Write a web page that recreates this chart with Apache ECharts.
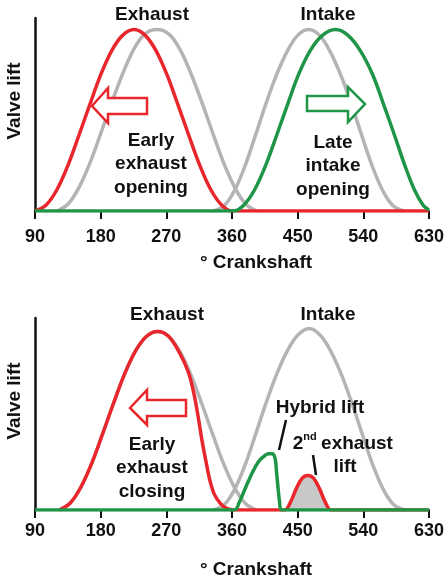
<!DOCTYPE html>
<html>
<head>
<meta charset="utf-8">
<script src="https://cdn.jsdelivr.net/npm/echarts@6/dist/echarts.min.js"></script>
<style>
  html, body { margin: 0; padding: 0; background: #fff; }
  #main { width: 447px; height: 581px; }
</style>
</head>
<body>
<div id="main"></div>
<script>
// tick labels of both crank axes
var crankTicks = [90, 180, 270, 360, 450, 540, 630];

// top panel: [crank angle, lift]
var topExhaustStd = [[120,0],[135,0.035],[150,0.12],[165,0.245],[180,0.40],[195,0.56],[210,0.71],[225,0.835],[240,0.915],[257,0.94],[274,0.915],[289,0.835],[304,0.71],[319,0.56],[334,0.40],[349,0.245],[364,0.12],[379,0.035],[394,0]];
var topIntakeStd = [[335,0],[350,0.03],[364,0.11],[378,0.235],[392,0.39],[406,0.55],[421,0.705],[436,0.83],[450,0.91],[465,0.94],[480,0.91],[494,0.83],[509,0.705],[524,0.55],[538,0.39],[552,0.235],[566,0.11],[580,0.03],[595,0]];
var topExhaustEarly = [[90,0],[105,0.03],[120,0.11],[135,0.235],[150,0.39],[165,0.55],[180,0.705],[195,0.83],[210,0.91],[226,0.94],[241,0.91],[256,0.83],[271,0.705],[286,0.55],[301,0.39],[316,0.235],[331,0.11],[346,0.03],[360,0],[630,0]];
var topIntakeLate = [[90,0],[362,0],[376,0.03],[391,0.11],[406,0.235],[421,0.39],[436,0.55],[451,0.705],[467,0.83],[484,0.91],[502,0.94],[519,0.91],[536,0.83],[553,0.705],[568,0.55],[583,0.39],[597,0.235],[610,0.11],[622,0.03],[630,0.005]];

// bottom panel
var botExhaustStd = [[123,0],[138,0.035],[153,0.12],[168,0.245],[183,0.40],[198,0.56],[213,0.71],[228,0.83],[243,0.905],[258,0.93],[273,0.905],[288,0.83],[303,0.71],[318,0.56],[333,0.40],[348,0.245],[363,0.12],[378,0.035],[393,0]];
var botIntakeStd = [[335,0],[350,0.03],[364,0.11],[378,0.235],[392,0.39],[406,0.55],[421,0.705],[436,0.83],[450,0.91],[466,0.945],[481,0.91],[495,0.83],[510,0.705],[525,0.55],[539,0.39],[553,0.235],[567,0.11],[581,0.03],[596,0]];
var botExhaustEarly = [[123,0],[138,0.035],[153,0.12],[168,0.245],[183,0.40],[198,0.56],[213,0.71],[228,0.83],[243,0.905],[258,0.93],[273,0.905],[288,0.82],[300,0.72],[307,0.62],[313,0.5],[319,0.36],[325,0.24],[330,0.15],[336,0.08],[344,0.035],[352,0.01],[362,0],[432,0],[440,0.04],[448,0.11],[456,0.165],[464,0.18],[472,0.165],[480,0.11],[488,0.04],[496,0],[630,0]];
var botSecondLift = [[432,0],[440,0.04],[448,0.11],[456,0.165],[464,0.18],[472,0.165],[480,0.11],[488,0.04],[496,0]];
var botHybrid = [[90,0],[363,0],[370,0.04],[379,0.12],[386,0.18],[392,0.225],[398,0.26],[404,0.28],[410,0.293],[415,0.293],[419,0.27],[421,0.2],[423,0.12],[425,0.05],[428,0],[630,0]];

var RED = '#e8262b', GREEN = '#1f9647', GREY = '#b4b4b4', INK = '#111';
var FONT = '"Liberation Sans", Arial, sans-serif';

var myChart = echarts.init(document.getElementById('main'));

function xAx(idx, margin) {
    return {
        gridIndex: idx, type: 'value', min: 90, max: 630, interval: 90,
        axisLine: { lineStyle: { color: INK, width: 2 } },
        axisTick: { length: 8, lineStyle: { color: INK, width: 2 } },
        axisLabel: {
            color: INK, fontSize: 18, fontWeight: 'bold', fontFamily: FONT, margin: margin,
            formatter: function (v) { return crankTicks.indexOf(v) >= 0 ? String(v) : ''; }
        },
        splitLine: { show: false }
    };
}
function yAx(idx) {
    return {
        gridIndex: idx, type: 'value', min: 0, max: 1,
        axisLine: { show: true, lineStyle: { color: INK, width: 2.5 } },
        axisTick: { show: false }, axisLabel: { show: false }, splitLine: { show: false }
    };
}
function curve(name, idx, data, color, z, extra) {
    var s = {
        name: name, type: 'line', xAxisIndex: idx, yAxisIndex: idx, data: data, z: z,
        smooth: 0.35, showSymbol: false, symbol: 'none', silent: true,
        lineStyle: { color: color, width: 3.5 }
    };
    return Object.assign(s, extra || {});
}
function label(text, x, y, extra, rot) {
    return {
        type: 'text', x: x, y: y, rotation: rot || 0, silent: true, z: 20,
        style: Object.assign({ text: text, fill: INK, font: 'bold 19px ' + FONT,
            align: 'center', verticalAlign: 'middle', lineHeight: 23.5 }, extra || {})
    };
}
function arrow(points, color) {
    return { type: 'polygon', silent: true, z: 3, shape: { points: points },
        style: { fill: '#fff', stroke: color, lineWidth: 2.5 } };
}

myChart.setOption({
    backgroundColor: '#ffffff',
    animation: false,
    grid: [
        { left: 35, right: 4, top: 18, height: 193 },
        { left: 35, right: 4, top: 318, height: 192 }
    ],
    xAxis: [xAx(0, 17), xAx(1, 12)],
    yAxis: [yAx(0), yAx(1)],
    series: [
        curve('Exhaust', 0, topExhaustStd, GREY, 1),
        curve('Intake', 0, topIntakeStd, GREY, 1),
        curve('Early exhaust opening', 0, topExhaustEarly, RED, 5),
        curve('Late intake opening', 0, topIntakeLate, GREEN, 6),

        curve('Exhaust', 1, botExhaustStd, GREY, 1),
        curve('Intake', 1, botIntakeStd, GREY, 1),
        curve('2nd exhaust lift area', 1, botSecondLift, GREY, 2,
            { lineStyle: { width: 0, opacity: 0 }, areaStyle: { color: '#c8c8c8', opacity: 1 } }),
        curve('Early exhaust closing', 1, botExhaustEarly, RED, 5),
        curve('Hybrid lift', 1, botHybrid, GREEN, 6)
    ],
    graphic: [
        label('Valve lift', 15, 101, null, Math.PI / 2),
        label('° Crankshaft', 256, 263),
        label('Exhaust', 152, 15),
        label('Intake', 328, 15),
        label('Early\nexhaust\nopening', 151, 164),
        label('Late\nintake\nopening', 333, 166),
        arrow([[92,106],[108,88],[108,98],[147,98],[147,114],[108,114],[108,123]], RED),
        arrow([[307,96],[348,96],[348,87],[365,104],[348,122],[348,111],[307,111]], GREEN),

        label('Valve lift', 15, 401, null, Math.PI / 2),
        label('° Crankshaft', 256, 570),
        label('Exhaust', 167, 315),
        label('Intake', 328, 315),
        label('Early\nexhaust\nclosing', 152, 468),
        arrow([[130,408],[147,390],[147,400],[186,400],[186,416],[147,416],[147,425]], RED),
        label('Hybrid lift', 320, 408),
        label('2', 298, 444),
        label('nd', 310, 437, { font: 'bold 11px ' + FONT }),
        label('exhaust', 357, 444),
        label('lift', 345, 467),
        { type: 'line', silent: true, z: 20, shape: { x1: 286, y1: 420, x2: 279, y2: 450 },
          style: { stroke: INK, lineWidth: 2.5 } },
        { type: 'line', silent: true, z: 20, shape: { x1: 313, y1: 455, x2: 316, y2: 475 },
          style: { stroke: INK, lineWidth: 2.5 } }
    ]
});
</script>
</body>
</html>
